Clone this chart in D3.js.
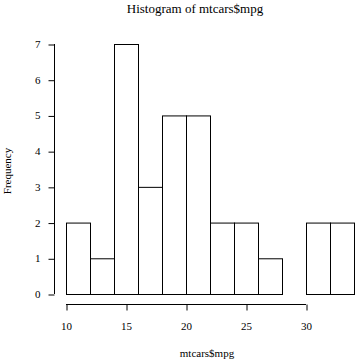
<!DOCTYPE html>
<html><head><meta charset="utf-8">
<script src="https://cdn.jsdelivr.net/npm/d3@7"></script>
<style>body{margin:0;background:#fff}svg{display:block}text{font-family:"Liberation Serif","Times New Roman",serif;fill:#000}</style>
</head><body>
<script>
const breaks = [10,12,14,16,18,20,22,24,26,28,30,32,34];
const counts = [2,1,7,3,5,5,2,2,1,0,2,2];
const xTicks = [10,15,20,25,30];
const yTicks = [0,1,2,3,4,5,6,7];
const title = "Histogram of mtcars$mpg";
const xLabel = "mtcars$mpg";
const yLabel = "Frequency";

const W = 356, H = 361;
const svg = d3.select("body").append("svg").attr("width",W).attr("height",H);
const x = d3.scaleLinear().domain([10,34]).range([66,354]);
const y = d3.scaleLinear().domain([0,7]).range([294,44]);

const bins = counts.map((c,i)=>({x0:breaks[i],x1:breaks[i+1],c}));
svg.append("g").selectAll("rect").data(bins).join("rect")
  .attr("x",d=>x(d.x0)+0.5).attr("y",d=>y(d.c)+0.5)
  .attr("width",d=>x(d.x1)-x(d.x0)).attr("height",d=>y(0)-y(d.c))
  .attr("fill","#fff").attr("stroke","#000").attr("stroke-width",1);

// x axis
const xa = svg.append("g").attr("transform","translate(0,304.5)");
xa.call(d3.axisBottom(x).tickValues(xTicks).tickSize(6).tickPadding(12).tickFormat(d3.format("d")));
xa.select(".domain").remove();
xa.append("line").attr("x1",x(xTicks[0])).attr("x2",x(xTicks[xTicks.length-1])).attr("stroke","#000");
xa.selectAll(".tick line").attr("transform","translate(0.5,0)");
xa.selectAll("text").style("font-family",null).attr("font-size",11).attr("font-family","Liberation Serif");

// y axis
const ya = svg.append("g").attr("transform","translate(54.5,0)");
ya.call(d3.axisLeft(y).tickValues(yTicks).tickSize(6).tickPadding(8).tickFormat(d3.format("d")));
ya.select(".domain").remove();
ya.append("line").attr("y1",y(0)).attr("y2",y(7)).attr("stroke","#000");
ya.selectAll(".tick line").attr("transform","translate(0,0.5)");
ya.selectAll("text").attr("font-size",11).attr("font-family","Liberation Serif");
svg.selectAll("g").attr("font-family",null).attr("font-size",null);

svg.append("text").attr("x",195).attr("y",13).attr("text-anchor","middle").attr("font-size",13).text(title);
svg.append("text").attr("x",207).attr("y",357).attr("text-anchor","middle").attr("font-size",11).text(xLabel);
svg.append("text").attr("transform","translate(10.5,171) rotate(-90)").attr("text-anchor","middle").attr("font-size",11).text(yLabel);
</script>
</body></html>
